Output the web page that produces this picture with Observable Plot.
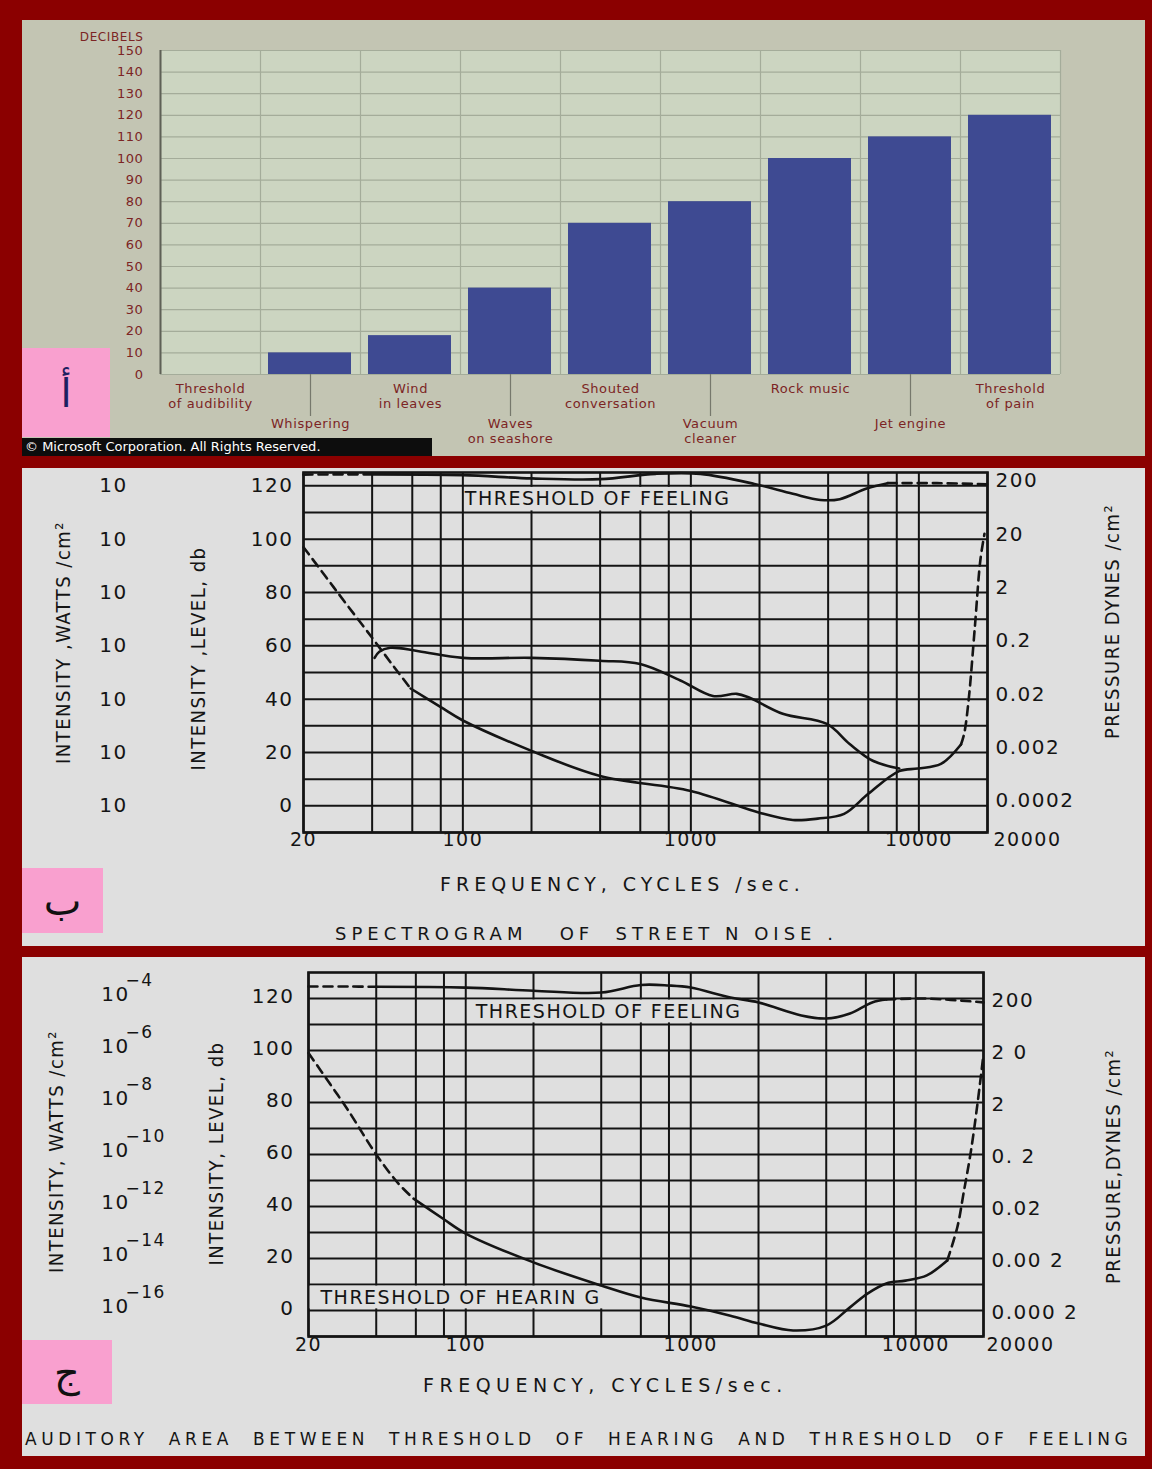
<!DOCTYPE html>
<html><head><meta charset="utf-8">
<script src="https://cdn.jsdelivr.net/npm/d3@7"></script>
<script src="https://cdn.jsdelivr.net/npm/@observablehq/plot@0.6"></script>
<style>
html,body{margin:0;padding:0;}
body{width:1152px;height:1469px;background:#8b0000;position:relative;overflow:hidden;font-family:"DejaVu Sans",sans-serif;}
.panel{position:absolute;left:22px;width:1123px;overflow:hidden;}
.panel svg{position:absolute;left:0;top:0;display:block;}
.pink{position:absolute;left:0;background:#f9a0cf;display:flex;align-items:center;justify-content:center;font-family:"DejaVu Sans",sans-serif;font-size:40px;z-index:2;}
.cap{position:absolute;white-space:nowrap;color:#151515;font-family:"DejaVu Sans",sans-serif;z-index:2;}
#pA svg text{letter-spacing:0.6px;}
#pB svg text,#pC svg text{letter-spacing:1.5px;}
#pB svg text.lbl,#pC svg text.lbl{letter-spacing:2.4px;}
</style></head><body>
<div id="pA" class="panel" style="top:20px;height:436px;background:#c3c5b3"></div>
<div id="pB" class="panel" style="top:468px;height:478px;background:#dfdfdf"></div>
<div id="pC" class="panel" style="top:957px;height:499px;background:#dfdfdf"></div>
<script>
// ---------- Panel A data ----------
const categories = ["Threshold\nof audibility","Whispering","Wind\nin leaves","Waves\non seashore","Shouted\nconversation","Vacuum\ncleaner","Rock music","Jet engine","Threshold\nof pain"];
const decibels = [0,10,18,40,70,80,100,110,120];
const decibelTicks = [0,10,20,30,40,50,60,70,80,90,100,110,120,130,140,150];

// ---------- Panels B / C shared data ----------
const gridFreqs = [20,40,60,80,100,200,400,600,800,1000,2000,4000,6000,8000,10000,20000];
const freqTickLabels = [20,100,1000,10000];
const freqEndLabel = [20000];
const dbTicks = [0,20,40,60,80,100,120];
const pressureLabelsB = ["0.0002","0.002","0.02","0.2","2","20","200"];
const pressureLabelsC = ["0.000 2","0.00 2","0.02","0. 2","2","2 0","200"];
const intensityExpC = ["−16","−14","−12","−10","−8","−6","−4"];

// Panel B curves [frequency, dB]
const feelingB_dashL = [[20,124.2],[30,124.3],[40,124.3]];
const feelingB_solid = [[40,124.3],[100,124],[200,122.8],[400,122.5],[700,124.5],[1100,124.5],[1900,120.7],[2800,117],[3700,114.7],[4500,115],[5900,119],[7300,121]];
const feelingB_dashR = [[7300,121],[12000,121],[20000,120.6]];
const hearingB_dashL = [[20,97],[25,86],[30,77],[40,63],[50,52],[59,44]];
const hearingB_solid = [[59,44],[80,37],[100,32],[200,20.6],[400,11.2],[1000,5.6],[2000,-2.6],[2800,-5.3],[3600,-4.8],[4700,-3],[6000,4.5],[8200,13],[9900,14],[12500,15.7],[15300,23]];
const hearingB_dashR = [[15300,23],[15800,27],[16500,39],[17600,67],[18600,92],[19400,102]];
const streetNoiseB = [[41,55.5],[43,57.8],[48,59.3],[64,58],[100,55.5],[200,55.5],[400,54.4],[600,53.2],[900,47],[1250,41.2],[1590,42],[1810,40.5],[2530,34.5],[3950,30.7],[4970,23.2],[6280,16.9],[8200,14]];

// Panel C curves [frequency, dB]
const feelingC_dashL = [[20,124.6],[30,124.6],[40,124.5]];
const feelingC_solid = [[40,124.5],[100,124.2],[200,123],[400,122.3],[600,125.2],[800,125],[1000,124.2],[1500,120.4],[2000,118.5],[3100,113.5],[4000,112.3],[5100,114.2],[6400,118.5],[7400,119.6]];
const feelingC_dashR = [[7400,119.6],[11000,120],[20000,118.5]];
const hearingC_dashL = [[20,99],[25,87],[30,77],[40,60],[50,49],[58.6,43]];
const hearingC_solid = [[58.6,43],[79,35.4],[100,29.6],[200,18.5],[400,9.6],[600,5],[1000,1.5],[1500,-2],[2000,-5],[2850,-7.7],[4000,-5.8],[5100,1.2],[6100,6.5],[7400,10.4],[9000,11.5],[11200,13.5],[13800,19.2]];
const hearingC_dashR = [[13800,19.2],[15300,32],[16300,45],[17600,61.5],[18900,81],[19900,97]];

// Label annotations
const feelingLabelB = [{text:"THRESHOLD OF FEELING", f1:100, f2:2000, db1:110, db2:120}];
const feelingLabelC = [{text:"THRESHOLD OF FEELING", f1:100, f2:2000, db1:110, db2:120}];
const hearingLabelC = [{text:"THRESHOLD OF HEARIN G", f1:20, f2:600, db1:0, db2:10}];

const ink = "#141414";
const paper = "#dfdfdf";
const maroon = "#7c2424";
const narrow = "Liberation Sans Narrow, DejaVu Sans Condensed, sans-serif";

// ---------- Panel A ----------
const rowsA = categories.map((c,i)=>({category:c, db:decibels[i], row:i%2}));
const chartA = Plot.plot({
  width:1123, height:436, marginLeft:138, marginRight:85, marginTop:30, marginBottom:82,
  x:{type:"band", domain:categories, padding:0, axis:null},
  y:{domain:[0,150], axis:null},
  style:{background:"transparent", fontFamily:"DejaVu Sans, sans-serif", overflow:"visible"},
  marks:[
    Plot.frame({fill:"#ccd5c1"}),
    Plot.ruleY(decibelTicks, {stroke:"#a4ac9a", strokeWidth:1.2}),
    Plot.ruleX(categories, {x:d=>d, dx:-50, stroke:"#a4ac9a", strokeWidth:1.2}),
    Plot.ruleX(categories.slice(-1), {x:d=>d, dx:50, stroke:"#a4ac9a", strokeWidth:1.2}),
    Plot.barY(rowsA, {x:"category", y:"db", fill:"#3e4a92", insetLeft:8, insetRight:9}),
    Plot.ruleX(categories.slice(0,1), {x:d=>d, dx:-50, stroke:"#5e6056", strokeWidth:2}),
    Plot.ruleX(rowsA.filter(d=>d.row===1), {x:"category", stroke:"#76786c", strokeWidth:1.2, insetTop:324, insetBottom:-42}),
    Plot.text(rowsA.filter(d=>d.row===0), {x:"category", text:"category", frameAnchor:"bottom", lineAnchor:"top", dy:8, fontSize:13, lineHeight:1.15, fill:maroon}),
    Plot.text(rowsA.filter(d=>d.row===1), {x:"category", text:"category", frameAnchor:"bottom", lineAnchor:"top", dy:43, fontSize:13, lineHeight:1.15, fill:maroon}),
    Plot.text(decibelTicks, {y:d=>d, text:d=>String(d), frameAnchor:"left", dx:-17, textAnchor:"end", fontSize:13, fill:maroon}),
    Plot.text(["DECIBELS"], {text:d=>d, frameAnchor:"top-left", dx:-17, dy:-18, textAnchor:"end", fontSize:12, fill:maroon})
  ]
});
document.getElementById("pA").appendChild(chartA);

// ---------- helpers for B / C ----------
function lineMark(data, dashed){
  return Plot.line(data, {x:d=>d[0], y:d=>d[1], curve:"catmull-rom", stroke:ink, strokeWidth:2.6, strokeDasharray: dashed ? "9,6" : null});
}
function gridMarks(yTop){
  return [
    Plot.ruleY(d3.range(-10, yTop, 10), {y:d=>d, stroke:ink, strokeWidth:2}),
    Plot.ruleX(gridFreqs, {x:d=>d, stroke:ink, strokeWidth:2}),
    Plot.frame({stroke:ink, strokeWidth:2.6})
  ];
}
function labelBox(lab, dx){
  return [
    Plot.rect(lab, {x1:"f1", x2:"f2", y1:"db1", y2:"db2", fill:paper, inset:1.6}),
    Plot.text(lab, {x:"f1", y:d=>(d.db1+d.db2)/2, text:"text", textAnchor:"start", dx:dx, fontSize:19, fill:ink, className:"lbl"})
  ];
}
function rotTitle(text, anchor, dx, dy){
  return Plot.text([text], {text:d=>d, frameAnchor:anchor, dx, dy, rotate:-90, textAnchor:"middle", fontSize:20, fontFamily:narrow, fill:ink});
}
const baseStyle = {background:"transparent", fontFamily:"DejaVu Sans, sans-serif", overflow:"visible"};

// ---------- Panel B ----------
const chartB = Plot.plot({
  width:1123, height:478, marginLeft:281, marginRight:158, marginTop:4, marginBottom:114,
  x:{type:"log", domain:[20,20000], axis:null},
  y:{domain:[-10,125], axis:null},
  style:baseStyle,
  marks:[
    ...gridMarks(125),
    ...labelBox(feelingLabelB, 2),
    lineMark(feelingB_dashL, true), lineMark(feelingB_solid, false), lineMark(feelingB_dashR, true),
    lineMark(hearingB_dashL, true), lineMark(hearingB_solid, false), lineMark(hearingB_dashR, true),
    lineMark(streetNoiseB, false),
    Plot.text(dbTicks, {y:d=>d, text:d=>String(d), frameAnchor:"left", dx:-10, textAnchor:"end", fontSize:20, fill:ink}),
    Plot.text(dbTicks, {y:d=>d, text:()=>"10", frameAnchor:"left", dx:-190, textAnchor:"middle", fontSize:20, fill:ink}),
    Plot.text(dbTicks, {y:d=>d, text:(d,i)=>pressureLabelsB[i], frameAnchor:"right", dx:8, dy:-5, textAnchor:"start", fontSize:20, fill:ink}),
    Plot.text(freqTickLabels, {x:d=>d, text:d=>String(d), frameAnchor:"bottom", dy:13, fontSize:19, fill:ink}),
    Plot.text(freqEndLabel, {x:d=>d, text:d=>String(d), frameAnchor:"bottom", dy:13, dx:40, fontSize:19, fill:ink}),
    rotTitle("INTENSITY ,WATTS /cm²", "left", -240, -10),
    rotTitle("INTENSITY ,LEVEL, db", "left", -105, 6),
    rotTitle("PRESSURE DYNES /cm²", "right", 125, -31)
  ]
});
document.getElementById("pB").appendChild(chartB);

// ---------- Panel C ----------
const chartC = Plot.plot({
  width:1123, height:499, marginLeft:286, marginRight:162, marginTop:15, marginBottom:120,
  x:{type:"log", domain:[20,20000], axis:null},
  y:{domain:[-10,130], axis:null},
  style:baseStyle,
  marks:[
    ...gridMarks(130),
    ...labelBox(feelingLabelC, 10),
    ...labelBox(hearingLabelC, 12),
    lineMark(feelingC_dashL, true), lineMark(feelingC_solid, false), lineMark(feelingC_dashR, true),
    lineMark(hearingC_dashL, true), lineMark(hearingC_solid, false), lineMark(hearingC_dashR, true),
    Plot.text(dbTicks, {y:d=>d, text:d=>String(d), frameAnchor:"left", dx:-14, dy:-2, textAnchor:"end", fontSize:20, fill:ink}),
    Plot.text(dbTicks, {y:d=>d, text:()=>"10", frameAnchor:"left", dx:-193, dy:-4, textAnchor:"middle", fontSize:20, fill:ink}),
    Plot.text(dbTicks, {y:d=>d, text:(d,i)=>intensityExpC[i], frameAnchor:"left", dx:-183, dy:-18, textAnchor:"start", fontSize:17, fill:ink}),
    Plot.text(dbTicks, {y:d=>d, text:(d,i)=>pressureLabelsC[i], frameAnchor:"right", dx:8, dy:2, textAnchor:"start", fontSize:20, fill:ink}),
    Plot.text(freqTickLabels, {x:d=>d, text:d=>String(d), frameAnchor:"bottom", dy:14, fontSize:19, fill:ink}),
    Plot.text(freqEndLabel, {x:d=>d, text:d=>String(d), frameAnchor:"bottom", dy:14, dx:37, fontSize:19, fill:ink}),
    rotTitle("INTENSITY, WATTS /cm²", "left", -252, -3),
    rotTitle("INTENSITY, LEVEL, db", "left", -92, -1),
    rotTitle("PRESSURE,DYNES /cm²", "right", 130, 12)
  ]
});
document.getElementById("pC").appendChild(chartC);

// ---------- HTML overlays: letters, captions ----------
function addDiv(parent, cls, css, text){
  const el = document.createElement("div");
  el.className = cls; el.style.cssText = css; el.textContent = text;
  document.getElementById(parent).appendChild(el);
  return el;
}
addDiv("pA","pink","top:328px;width:88px;height:89px;color:#1d2060;","أ");
addDiv("pA","cap","left:0;top:418px;width:410px;height:18px;background:#0d0d0d;color:#fff;font-size:13px;line-height:18px;padding-left:3px;box-sizing:border-box;","© Microsoft Corporation. All Rights Reserved.");
addDiv("pB","pink","top:400px;width:81px;height:65px;color:#111;","ب");
addDiv("pB","cap","left:418px;top:405px;font-size:19px;letter-spacing:5px;","FREQUENCY, CYCLES /sec.");
addDiv("pB","cap","left:313px;top:455px;font-size:18px;letter-spacing:5px;","SPECTROGRAM\u00a0\u00a0 OF\u00a0 STREET N OISE .");
addDiv("pC","pink","top:383px;width:90px;height:64px;color:#111;","ج");
addDiv("pC","cap","left:401px;top:417px;font-size:19px;letter-spacing:5.5px;","FREQUENCY, CYCLES/sec.");
addDiv("pC","cap","left:3px;top:472px;font-size:17px;letter-spacing:4.6px;word-spacing:10px;","AUDITORY AREA BETWEEN THRESHOLD OF HEARING AND THRESHOLD OF FEELING");
</script>
</body></html>
